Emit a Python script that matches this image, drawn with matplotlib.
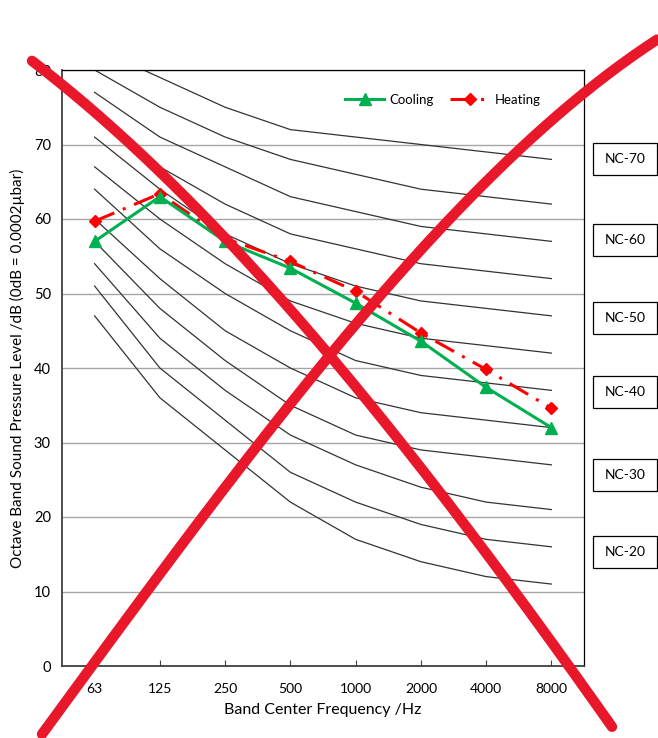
import matplotlib

matplotlib.use("Agg")
import matplotlib.pyplot as plt
from matplotlib.patches import Rectangle
import numpy as np

plt.rcParams["font.family"] = ["Lato", "DejaVu Sans"]

# octave bands
bands = ["63", "125", "250", "500", "1000", "2000", "4000", "8000"]

# NC reference curves (NC-15 ... NC-70)
nc_curves = {
    "NC-15": [47, 36, 29, 22, 17, 14, 12, 11],
    "NC-20": [51, 40, 33, 26, 22, 19, 17, 16],
    "NC-25": [54, 44, 37, 31, 27, 24, 22, 21],
    "NC-30": [57, 48, 41, 35, 31, 29, 28, 27],
    "NC-35": [60, 52, 45, 40, 36, 34, 33, 32],
    "NC-40": [64, 56, 50, 45, 41, 39, 38, 37],
    "NC-45": [67, 60, 54, 49, 46, 44, 43, 42],
    "NC-50": [71, 64, 58, 54, 51, 49, 48, 47],
    "NC-55": [74, 67, 62, 58, 56, 54, 53, 52],
    "NC-60": [77, 71, 67, 63, 61, 59, 58, 57],
    "NC-65": [80, 75, 71, 68, 66, 64, 63, 62],
    "NC-70": [83, 79, 75, 72, 71, 70, 69, 68],
}

cooling = [57.0, 63.0, 57.0, 53.4, 48.7, 43.6, 37.4, 32.0]
heating = [59.7, 63.4, 57.4, 54.3, 50.3, 44.7, 39.8, 34.6]

box_labels = ["NC-70", "NC-60", "NC-50", "NC-40", "NC-30", "NC-20"]
box_levels = [68.0, 57.2, 46.7, 36.8, 25.6, 15.3]

# hand-drawn red cross strokes, in image pixels (x, y from top)
stroke_a = [(32, 57), (47, 72), (100, 122), (143, 157), (173, 187), (217, 227),
            (270, 290), (333, 357), (387, 417), (400, 437), (450, 507),
            (500, 577), (550, 647), (580, 687), (612, 717)]
stroke_b = [(42, 733), (62, 713), (80, 683), (100, 650), (147, 590), (200, 517),
            (220, 490), (283, 420), (333, 355), (373, 307), (423, 247),
            (467, 197), (517, 147), (583, 97), (657, 40)]

W, H = 658, 738
fig = plt.figure(figsize=(W / 100, H / 100), dpi=100)
ax = fig.add_axes([62 / W, 1 - 666 / H, (584 - 62) / W, (666 - 70) / H])

x = np.arange(len(bands))
for name, vals in nc_curves.items():
    ax.plot(x, vals, color="#333333", linewidth=0.9, zorder=2)

ax.plot(x, cooling, color="#00B050", linewidth=2.2, marker="^", markersize=8,
        label="Cooling", zorder=4)
ax.plot(x, heating, color="#FF0000", linewidth=2.2, linestyle=(0, (7, 3, 1, 3)),
        marker="D", markersize=6, label="Heating", zorder=3)

ax.set_xlim(-0.5, len(bands) - 0.5)
ax.set_ylim(0, 80)
ax.set_yticks(np.arange(0, 81, 10))
ax.set_xticks(x, bands)
ax.tick_params(axis="x", direction="in", length=4, labelsize=10, pad=12,
               color="#404040")
ax.tick_params(axis="y", length=0, labelsize=10.5, pad=8)
ax.grid(True, axis="y", color="#A6A6A6", linewidth=1.0, zorder=0)
for side in ("left", "bottom"):
    ax.spines[side].set_color("#404040")
    ax.spines[side].set_linewidth(1.3)
for side in ("top", "right"):
    ax.spines[side].set_color("#000000")
    ax.spines[side].set_linewidth(0.9)

ax.set_xlabel("Band Center Frequency /Hz", fontsize=11.5, labelpad=6)
ax.set_ylabel("Octave Band Sound Pressure Level /dB (0dB = 0.0002\u00b5bar)",
              fontsize=11, labelpad=6)

ax.legend(loc="upper right", bbox_to_anchor=(0.94, 0.98), ncol=2, frameon=False,
          fontsize=9.5, handlelength=3.0, columnspacing=1.2, handletextpad=0.4)

# NC labels in boxes to the right of the plot
for label, level in zip(box_labels, box_levels):
    yc = ax.transData.transform((0, level))[1] / H
    bw, bh = 64 / W, 32 / H
    fig.add_artist(Rectangle((593 / W, yc - bh / 2), bw, bh, transform=fig.transFigure,
                             facecolor="white", edgecolor="black", linewidth=0.9))
    fig.text(593 / W + bw / 2, yc, label, ha="center", va="center", fontsize=10)

# red cross over the chart; smooth the traced points so the stroke looks hand drawn
for stroke in (stroke_a, stroke_b):
    sx = np.array([p[0] for p in stroke], dtype=float)
    sy = np.array([p[1] for p in stroke], dtype=float)
    coef = np.polyfit(sx, sy, 3)
    fx = np.linspace(sx[0], sx[-1], 200)
    fy = np.polyval(coef, fx)
    fig.add_artist(plt.Line2D(fx / W, 1 - fy / H, transform=fig.transFigure,
                              color="#E8172A", linewidth=7.5, solid_capstyle="round",
                              solid_joinstyle="round", zorder=10))

fig.savefig("out.png", dpi=100)
